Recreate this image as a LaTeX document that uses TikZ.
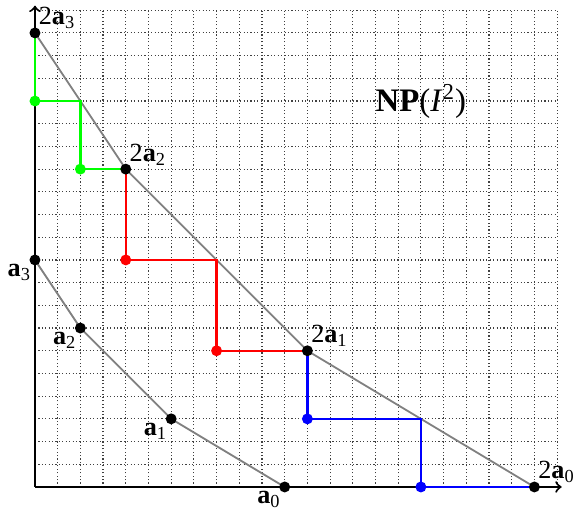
\documentclass[tikz,border=0pt]{standalone}
\usepackage{fontspec}
\setmainfont{Liberation Serif}
\usetikzlibrary{positioning}

\tikzset{
  gridline/.style={densely dotted, black!75, line width=0.5pt},
  axis/.style={->, line width=0.9pt, black},
  hull/.style={gray, line width=0.8pt},
  stair/.style={line width=1pt},
  ptlabel/.style={inner sep=1.5pt, font=\fontsize{11.5}{13}\selectfont},
}

\begin{document}
\begin{tikzpicture}[x=0.35cm, y=0.35cm]
\useasboundingbox (-1.54,-1.10) rectangle (23.92,21.45);

% grid and axes
\draw[gridline, step=0.35cm] (0,0) grid (23,21);
\coordinate (o) at (0,0);
\coordinate (xend) at (23.2,0);
\coordinate (yend) at (0,21.2);
\draw[axis] (o) -- (xend);
\draw[axis] (o) -- (yend);

% points of I
\coordinate (a0) at (11,0);
\coordinate (a1) at (6,3);
\coordinate (a2) at (2,7);
\coordinate (a3) at (0,10);
% points of I^2
\coordinate (b0) at (22,0);
\coordinate (b1) at (12,6);
\coordinate (b2) at (4,14);
\coordinate (b3) at (0,20);
% corners of the staircases
\coordinate (g1) at (0,17);
\coordinate (g2) at (2,14);
\coordinate (r1) at (4,10);
\coordinate (r2) at (8,6);
\coordinate (u1) at (12,3);
\coordinate (u2) at (17,0);

% Newton polygons
\draw[hull] (a3) -- (a2) -- (a1) -- (a0);
\draw[hull] (b3) -- (b2) -- (b1) -- (b0);

% staircases
\draw[stair, green] (b3) -- (g1) -| (g2) -- (b2);
\draw[stair, red] (b2) -- (r1) -| (r2) -- (b1);
\draw[stair, blue] (b1) -- (u1) -| (u2) -- (b0);

% dots
\foreach \p in {g1,g2} \fill[green] (\p) circle[radius=2.4pt];
\foreach \p in {r1,r2} \fill[red] (\p) circle[radius=2.4pt];
\foreach \p in {u1,u2} \fill[blue] (\p) circle[radius=2.4pt];
\foreach \p in {a0,a1,a2,a3,b0,b1,b2,b3} \fill (\p) circle[radius=2.4pt];

% labels
\node[ptlabel, below left=0pt of a0] (la0) {\textbf{a}\textsubscript{0}};
\node[ptlabel, below left=0pt of a1] (la1) {\textbf{a}\textsubscript{1}};
\node[ptlabel, below left=0pt of a2] (la2) {\textbf{a}\textsubscript{2}};
\node[ptlabel, below left=0pt of a3] (la3) {\textbf{a}\textsubscript{3}};
\node[ptlabel, above right=0pt of b0] (lb0) {2\textbf{a}\textsubscript{0}};
\node[ptlabel, above right=0pt of b1] (lb1) {2\textbf{a}\textsubscript{1}};
\node[ptlabel, above right=0pt of b2] (lb2) {2\textbf{a}\textsubscript{2}};
\node[ptlabel, above right=0pt of b3] (lb3) {2\textbf{a}\textsubscript{3}};

\node[font=\Large] (np) at (17,17) {\textbf{NP}(\textit{I}\textsuperscript{2})};
\end{tikzpicture}
\end{document}
